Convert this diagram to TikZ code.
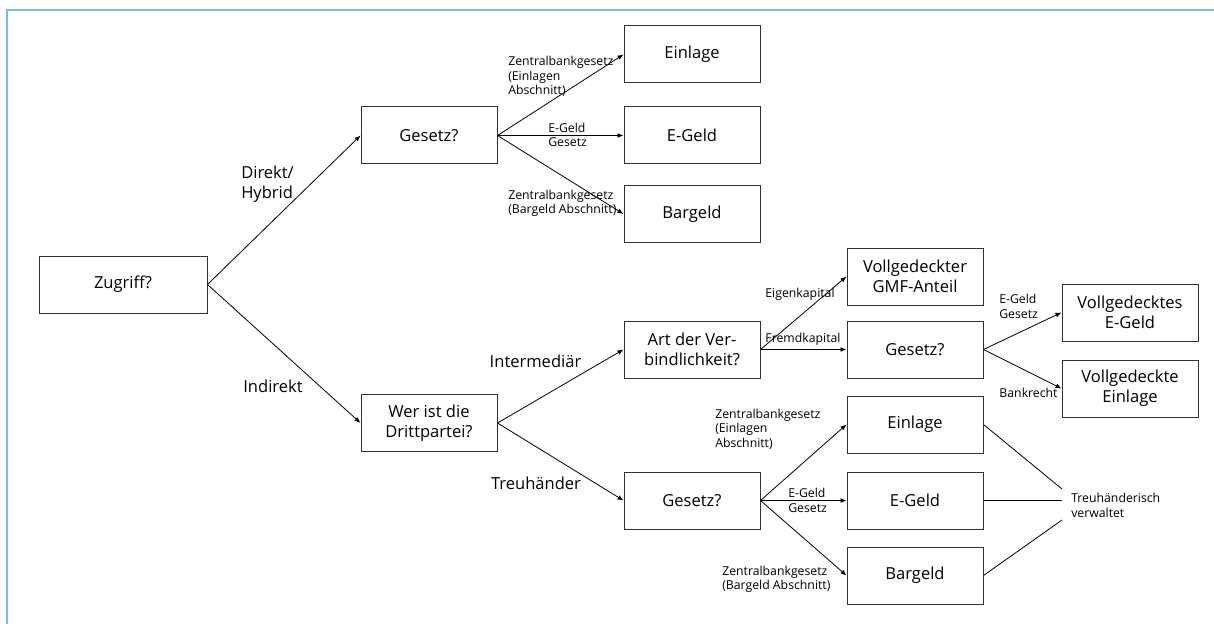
\documentclass[tikz,border=0pt]{standalone}
\usepackage{fontspec}
\setmainfont{Open Sans}
\usepackage{tikz}
\usetikzlibrary{arrows.meta}
\definecolor{frameblue}{HTML}{7FBFD4}
\definecolor{boxline}{HTML}{333333}

\begin{document}
\begin{tikzpicture}[x=0.75pt,y=-0.75pt,>={Latex[length=4.5pt,width=3.6pt]},
  box/.style={draw=boxline,line width=0.75pt,minimum width=102pt,minimum height=42.75pt,
    inner sep=0pt,align=center,font=\fontsize{12.4}{15}\selectfont},
  biglab/.style={inner sep=0pt,align=left,font=\fontsize{12.4}{15}\selectfont},
  smalllab/.style={inner sep=0pt,align=left,font=\fontsize{9.2}{10.9}\selectfont},
  conn/.style={->,line width=0.6pt}]
  \useasboundingbox (0,0) rectangle (1214,624);
  \draw[frameblue,line width=1.6pt] (7,640) -- (7,10) -- (1230,10);

  % boxes
  \node[box,minimum width=126pt] (zugriff) at (123,284.5) {Zugriff?};
  \node[box] (gesetzA) at (429,135.5) {Gesetz?};
  \node[box] (einlageA) at (692,54.5) {Einlage};
  \node[box] (egeldA) at (692,135.5) {E-Geld};
  \node[box] (bargeldA) at (692,214) {Bargeld};
  \node[box] (dritt) at (429,423) {Wer ist die\\Drittpartei?};
  \node[box] (art) at (692,349.5) {Art der Ver-\\bindlichkeit?};
  \node[box] (gesetzB) at (692,500.5) {Gesetz?};
  \node[box] (gmf) at (915,276.5) {Vollgedeckter\\GMF-Anteil};
  \node[box] (gesetzC) at (915,349.5) {Gesetz?};
  \node[box] (einlageB) at (915,424.5) {Einlage};
  \node[box] (egeldB) at (915,500.5) {E-Geld};
  \node[box] (bargeldB) at (915,575.5) {Bargeld};
  \node[box] (vgegeld) at (1130,312.5) {Vollgedecktes\\E-Geld};
  \node[box] (vgeinlage) at (1130,388.5) {Vollgedeckte\\Einlage};

  % arrows
  \foreach \a/\b in {zugriff/gesetzA,zugriff/dritt,gesetzA/einlageA,gesetzA/egeldA,
    gesetzA/bargeldA,dritt/art,dritt/gesetzB,art/gmf,art/gesetzC,gesetzC/vgegeld,
    gesetzC/vgeinlage,gesetzB/einlageB,gesetzB/egeldB,gesetzB/bargeldB}
    \draw[conn] (\a.east) -- (\b.west);

  % edge labels
  \node[biglab,anchor=west] (ldirekt) at (241,184) {Direkt/\\Hybrid};
  \node[biglab] (lindirekt) at (273,386) {Indirekt};
  \node[biglab] (linter) at (535.5,361) {Intermediär};
  \node[biglab] (ltreu) at (536,483) {Treuhänder};
  \node[smalllab,anchor=west] (lzbA) at (508,76.5) {Zentralbankgesetz\\(Einlagen\\Abschnitt)};
  \node[smalllab,anchor=west] (lemgA) at (548,135) {E-Geld\\Gesetz};
  \node[smalllab,anchor=west] (lbarA) at (508,203.5) {Zentralbankgesetz\\(Bargeld Abschnitt)};
  \node[smalllab] (leigen) at (800,294) {Eigenkapital};
  \node[smalllab] (lfremd) at (803,339) {Fremdkapital};
  \node[smalllab,anchor=west] (lemgC) at (999,306.5) {E-Geld\\Gesetz};
  \node[smalllab] (lbank) at (1028.5,393) {Bankrecht};
  \node[smalllab,anchor=west] (lzbB) at (715,429) {Zentralbankgesetz\\(Einlagen\\Abschnitt)};
  \node[smalllab,anchor=west] (lemgB) at (788,500.5) {E-Geld\\Gesetz};
  \node[smalllab,anchor=west] (lbarB) at (722,579.5) {Zentralbankgesetz\\(Bargeld Abschnitt)};

  % treuhaenderisch verwaltet
  \node[smalllab,anchor=west] (verwaltet) at (1071,505.5) {Treuhänderisch\\verwaltet};
  \coordinate (v1) at (1062,489);
  \coordinate (v2) at (1062,500.5);
  \coordinate (v3) at (1062,520);
  \draw[line width=0.6pt] (einlageB.east) -- (v1);
  \draw[line width=0.6pt] (egeldB.east) -- (v2);
  \draw[line width=0.6pt] (bargeldB.east) -- (v3);
\end{tikzpicture}
\end{document}
